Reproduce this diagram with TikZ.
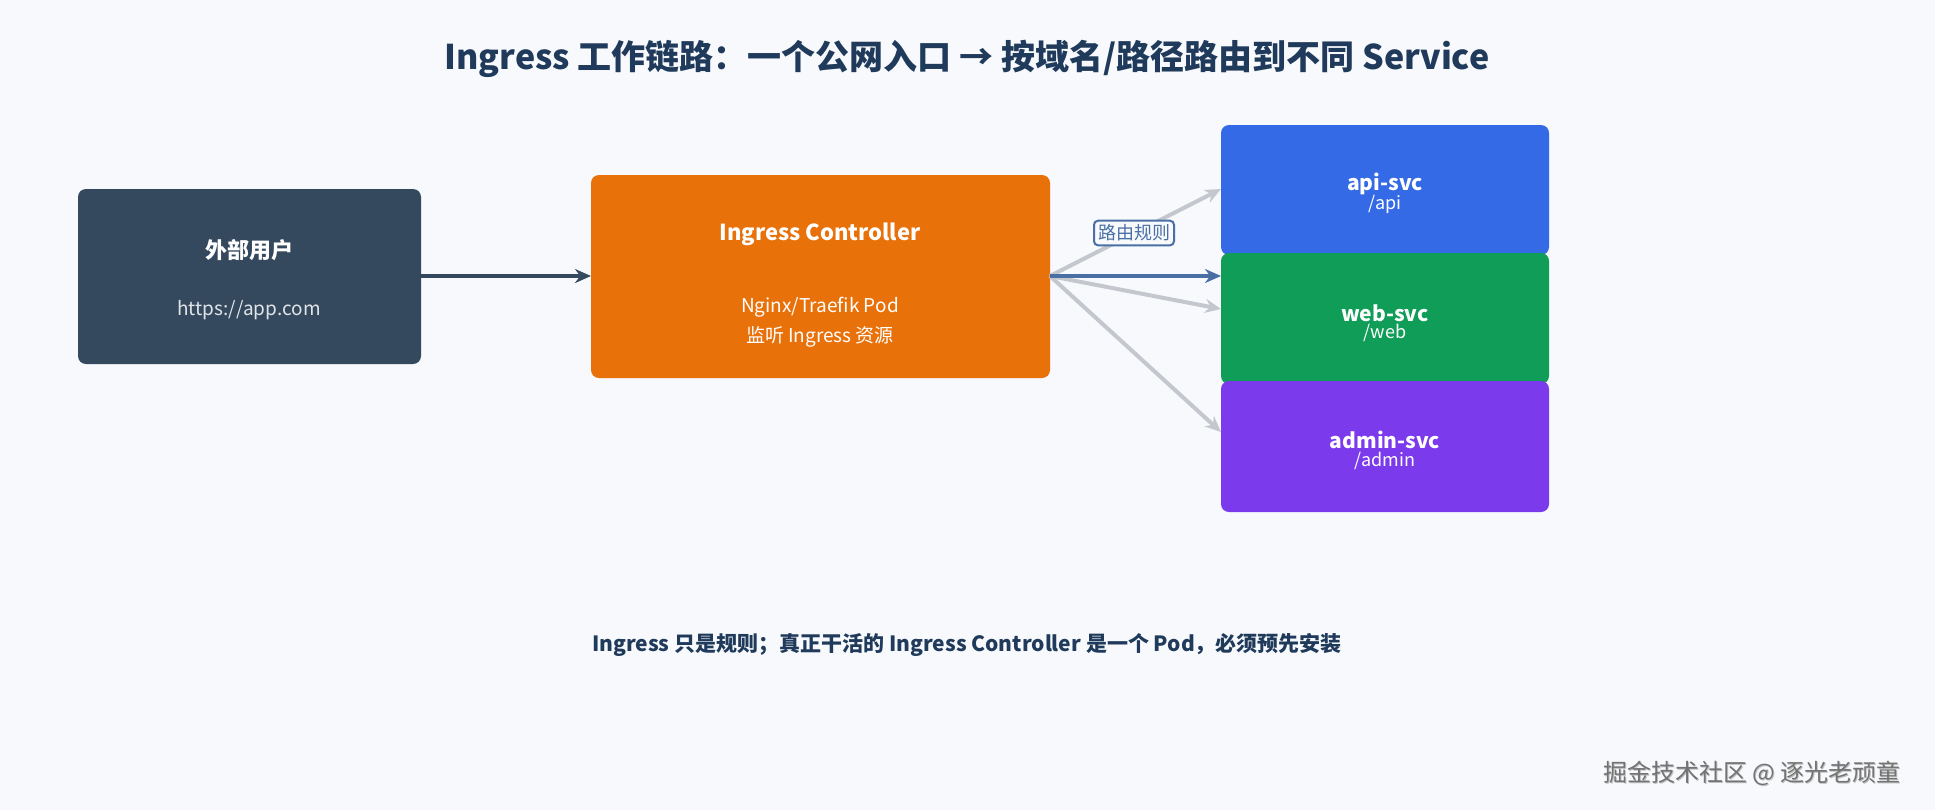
\documentclass[tikz,border=0pt]{standalone}
\usepackage{fontspec}
\setmainfont{Noto Sans CJK SC}
\usetikzlibrary{arrows.meta,positioning}
\definecolor{bgcol}{HTML}{F7F9FC}
\definecolor{usercol}{HTML}{34495E}
\definecolor{ctrlcol}{HTML}{E8710A}
\definecolor{apicol}{HTML}{356AE6}
\definecolor{webcol}{HTML}{0F9D58}
\definecolor{admincol}{HTML}{7C3AED}
\definecolor{titlecol}{HTML}{1F3A5A}
\definecolor{rulecol}{HTML}{4A6FA5}
\definecolor{greycol}{HTML}{C4C8CE}
\tikzset{
    box/.style={rounded corners=4pt,fill=#1,draw=none,inner sep=0pt},
    svc/.style={text=white,font=\fontsize{10.5}{10.5}\selectfont\bfseries,inner sep=0pt},
    svcpath/.style={text=white,font=\fontsize{9}{9}\selectfont,inner sep=0pt},
    arr/.style={-{Stealth[length=8pt,width=7pt]},line width=2pt},
    grey arr/.style={arr,greycol},
}
\begin{document}
\begin{tikzpicture}[x=0.5pt,y=-0.5pt]
    \fill[bgcol] (0,0) rectangle (1935,810);
    \useasboundingbox (0,0) rectangle (1935,810);

    \node[text=titlecol,font=\fontsize{17}{17}\selectfont\bfseries] (title) at (967,59)
        {Ingress 工作链路：一个公网入口 → 按域名/路径路由到不同 Service};

    % boxes
    \fill[box=usercol] (78,189) rectangle (421,364);
    \fill[box=ctrlcol] (591,175) rectangle (1050,378);
    \fill[box=apicol] (1221,125) rectangle (1549,255);
    \fill[box=webcol] (1221,253) rectangle (1549,384);
    \fill[box=admincol] (1221,381) rectangle (1549,512);

    \node[text=white,font=\fontsize{11}{11}\selectfont\bfseries] (user) at (249,250) {外部用户};
    \node[text=white!85!usercol,font=\fontsize{9.5}{9.5}\selectfont] (userurl) at (249,310) {https://app.com};
    \node[text=white,font=\fontsize{11}{11}\selectfont\bfseries] (ctrl) at (820,234) {Ingress Controller};
    \node[text=white,font=\fontsize{9.5}{9.5}\selectfont] (ctrlsub) at (820,307) {Nginx/Traefik Pod};
    \node[text=white,font=\fontsize{9.5}{9.5}\selectfont] (ctrlsub2) at (820,337) {监听 Ingress 资源};

    \node[svc] (api) at (1385,184) {api-svc};
    \node[svcpath] (apipath) at (1385,204) {/api};
    \node[svc] (web) at (1385,313) {web-svc};
    \node[svcpath] (webpath) at (1385,333) {/web};
    \node[svc] (admin) at (1385,440) {admin-svc};
    \node[svcpath] (adminpath) at (1385,461) {/admin};

    % connectors
    \coordinate (userout) at (421,276);
    \coordinate (ctrlin) at (591,276);
    \coordinate (ctrlout) at (1050,276);
    \coordinate (apiin) at (1221,189);
    \coordinate (webin) at (1221,276);
    \coordinate (web2in) at (1221,309);
    \coordinate (adminin) at (1221,432);
    \draw[arr,usercol] (userout) -- (ctrlin);
    \draw[grey arr] (ctrlout) -- (apiin);
    \draw[grey arr] (ctrlout) -- (web2in);
    \draw[grey arr] (ctrlout) -- (adminin);
    \draw[arr,rulecol] (ctrlout) -- (webin);

    \node[draw=rulecol,fill=bgcol,text=rulecol,rounded corners=2pt,line width=1pt,
        inner sep=2pt,font=\fontsize{9}{9}\selectfont] (rule) at (1134,233) {路由规则};

    \node[text=titlecol,font=\fontsize{10.5}{10.5}\selectfont\bfseries] (note) at (967,645)
        {Ingress 只是规则；真正干活的 Ingress Controller 是一个 Pod，必须预先安装};

    \node[text=black!25,font=\fontsize{12}{12}\selectfont] at (1753,774) {掘金技术社区 @ 逐光老顽童};
    \node[text=black!55,font=\fontsize{12}{12}\selectfont] (mark) at (1752,773) {掘金技术社区 @ 逐光老顽童};
\end{tikzpicture}
\end{document}
